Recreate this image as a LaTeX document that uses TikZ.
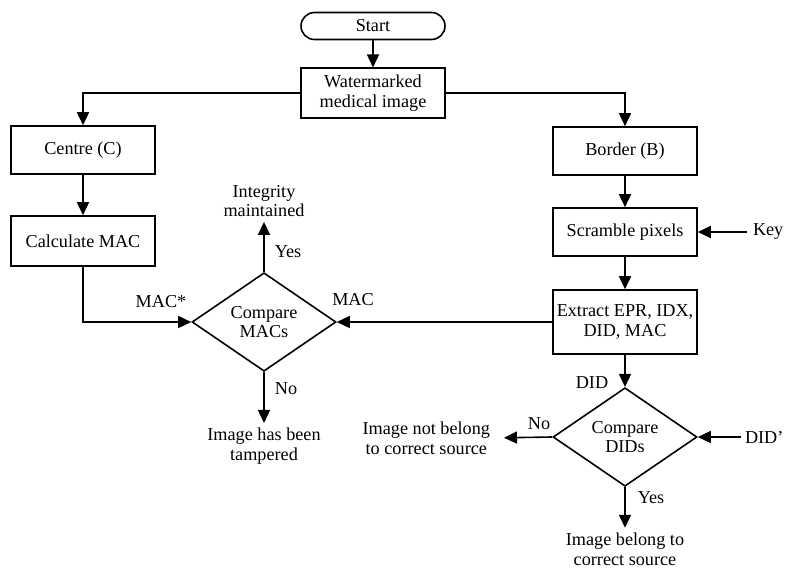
\documentclass[tikz,border=0pt]{standalone}
\usepackage{fontspec}
\setmainfont{Liberation Serif}
\usetikzlibrary{shapes.geometric,arrows.meta}
\colorlet{strokeColor}{black}
\colorlet{textColor}{black}

\begin{document}
\begin{tikzpicture}[
    x=0.5pt,
    y=-0.5pt,
    font=\fontsize{9.1}{9.8}\selectfont,
    every node/.style={color=textColor},
    box/.style={
      draw=strokeColor,
      line width=0.8pt,
      minimum width=72pt,
      minimum height=24pt,
      inner xsep=1pt,
      align=center,
    },
    decision/.style={
      draw=strokeColor,
      diamond,
      line width=0.8pt,
      minimum width=72pt,
      minimum height=49pt,
      inner sep=0pt,
      align=center,
    },
    note/.style={inner sep=0pt, outer sep=2.5pt, align=center},
    flow/.style={
      draw=strokeColor,
      line width=0.8pt,
      -{Triangle[length=6.5pt, width=6pt]},
    },
  ]
  \useasboundingbox (0, 0) rectangle (786, 567);

  % main column and the two branches
  \node[box, rounded corners=6.75pt, minimum height=13.5pt] (start) at (373, 26) {Start};
  \node[box] (watermarked) at (373, 93) {Watermarked\\medical image};
  \node[box] (centre) at (83, 150) {Centre (C)};
  \node[box, minimum height=25pt] (calcMac) at (83, 241) {Calculate MAC};
  \node[box] (border) at (625, 151) {Border (B)};
  \node[box] (scramble) at (625, 232) {Scramble pixels};
  \node[box, minimum height=32pt] (extract) at (625, 322) {Extract EPR, IDX,\\DID, MAC};

  % decisions
  \node[decision] (compareMacs) at (264, 322) {Compare\\MACs};
  \node[decision] (compareDids) at (625, 437) {Compare\\DIDs};

  % inputs and outcomes
  \node[note, anchor=west, outer sep=3pt] (key) at (747, 232) {Key};
  \node[note, anchor=west, outer sep=2pt] (didPrime) at (741, 437) {DID’};
  \node[note] (integrity) at (264, 201) {Integrity\\maintained};
  \node[note] (tampered) at (264, 446) {Image has been\\tampered};
  \node[note, anchor=east, outer sep=0pt] (wrongSource) at (490, 438) {Image not belong\\to correct source};
  \node[note] (rightSource) at (625, 549) {Image belong to\\correct source};

  % connectors
  \draw[flow] (start) -- (watermarked);
  \draw[flow] (watermarked.west) -| (centre.north);
  \draw[flow] (watermarked.east) -| (border.north);
  \draw[flow] (centre) -- (calcMac);
  \draw[flow] (calcMac.south) |- (compareMacs.west);
  \draw[flow] (border) -- (scramble);
  \draw[flow] (scramble) -- (extract);
  \draw[flow] (key.west) -- (scramble.east);
  \draw[flow] (extract.west) -- (compareMacs.east);
  \draw[flow] (compareMacs.north) -- (integrity.south);
  \draw[flow] (compareMacs.south) -- (tampered.north);
  \draw[flow] (extract.south) -- (compareDids.north);
  \draw[flow] (didPrime.west) -- (compareDids.east);
  \draw[flow, shorten >=7pt] (compareDids.west) -- (wrongSource.east);
  \draw[flow] (compareDids.south) -- (rightSource.north);

  % edge labels
  \node (macStar) at (161, 302) {MAC*};
  \node (macIn) at (353, 300) {MAC};
  \node (yesMac) at (288, 252) {Yes};
  \node (noMac) at (286, 389) {No};
  \node (didIn) at (592, 383) {DID};
  \node (noDid) at (539, 424) {No};
  \node (yesDid) at (651, 498) {Yes};
\end{tikzpicture}
\end{document}
